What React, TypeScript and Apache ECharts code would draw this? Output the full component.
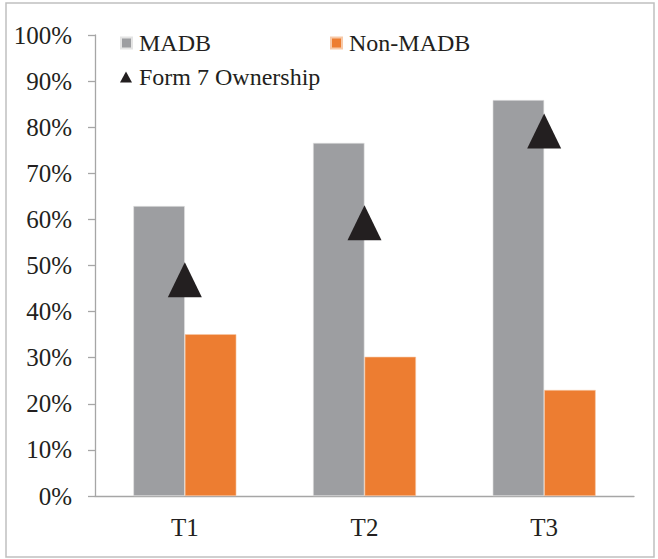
import React, { useEffect, useRef } from "react";
import * as echarts from "echarts";

const categories = ["T1", "T2", "T3"];
const madb = [0.629, 0.766, 0.859];
const nonMadb = [0.351, 0.302, 0.23];
const form7 = [0.469, 0.593, 0.792];
const yTicks = [0, 0.1, 0.2, 0.3, 0.4, 0.5, 0.6, 0.7, 0.8, 0.9, 1.0];

const FONT = "Liberation Serif";
const TEXT = "#231f20";
const AXIS = "#a6a6a6";

export default function App() {
  const ref = useRef<HTMLDivElement>(null);
  useEffect(() => {
    if (!ref.current) return;
    const chart = echarts.init(ref.current, undefined, { renderer: "svg" });
    chart.setOption({
      animation: false,
      backgroundColor: "#ffffff",
      textStyle: { fontFamily: FONT, color: TEXT },
      graphic: [
        {
          type: "rect",
          shape: { x: 6, y: 3, width: 648, height: 554 },
          style: { fill: "none", stroke: "#c0c0c0", lineWidth: 1.5 },
          silent: true,
          z: -1,
        },
      ],
      legend: [
        {
          data: ["MADB", "Non-MADB"],
          left: 120,
          top: 31,
          icon: "rect",
          itemWidth: 11,
          itemHeight: 11,
          itemGap: 119,
          textStyle: { fontFamily: FONT, fontSize: 24, color: TEXT, padding: [0, 0, 0, 2] },
          padding: 0,
        },
        {
          data: ["Form 7 Ownership"],
          left: 120,
          top: 65,
          icon: "triangle",
          itemWidth: 12,
          itemHeight: 11,
          textStyle: { fontFamily: FONT, fontSize: 24, color: TEXT, padding: [0, 0, 0, 2] },
          padding: 0,
        },
      ],
      grid: { left: 95, right: 24, top: 35, bottom: 63, containLabel: false },
      xAxis: {
        type: "category",
        data: categories,
        axisLine: { lineStyle: { color: AXIS, width: 1.3 } },
        axisTick: { length: 7, lineStyle: { color: AXIS, width: 1.3 } },
        axisLabel: { fontFamily: FONT, fontSize: 25, color: TEXT, margin: 19 },
      },
      yAxis: {
        type: "value",
        min: yTicks[0],
        max: yTicks[yTicks.length - 1],
        interval: 0.1,
        splitLine: { show: false },
        axisLine: { show: true, lineStyle: { color: AXIS, width: 1.3 } },
        axisTick: { show: true, length: 7, lineStyle: { color: AXIS, width: 1.3 } },
        axisLabel: {
          fontFamily: FONT,
          fontSize: 25,
          color: TEXT,
          margin: 23,
          formatter: (v: number) => `${Math.round(v * 100)}%`,
        },
      },
      series: [
        {
          name: "MADB",
          type: "bar",
          data: madb,
          barWidth: 51.5,
          barGap: "0%",
          itemStyle: { color: "#9d9ea1", borderColor: "#e4e4e4", borderWidth: 0.6 },
        },
        {
          name: "Non-MADB",
          type: "bar",
          data: nonMadb,
          barWidth: 51.5,
          barGap: "0%",
          itemStyle: { color: "#ed7d31", borderColor: "#f7c9a8", borderWidth: 0.6 },
        },
        {
          name: "Form 7 Ownership",
          type: "scatter",
          data: form7,
          symbol: "triangle",
          symbolSize: [34, 35],
          itemStyle: { color: "#231f20", opacity: 1 },
          z: 5,
        },
      ],
    });
    return () => chart.dispose();
  }, []);
  return (
    <div
      ref={ref}
      style={{ position: "absolute", left: 0, top: 0, width: 658, height: 559 }}
    />
  );
}
